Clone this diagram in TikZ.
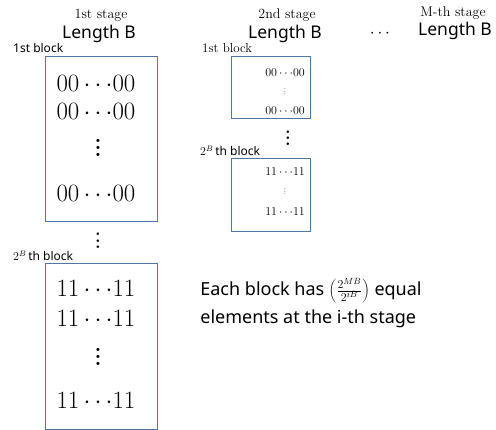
\documentclass[tikz,border=0pt]{standalone}
\usepackage{fontspec}
\setsansfont{Noto Sans}
\definecolor{boxblue}{RGB}{79,119,166}
\newcommand\vdd[1]{\vbox{\baselineskip=#1\lineskiplimit=-20pt\hbox{.}\hbox{.}\hbox{.}}}
\begin{document}
\begin{tikzpicture}[x=1pt,y=-1pt,
  blk/.style={draw=boxblue,line width=0.9pt,inner sep=0pt},
  stagelbl/.style={font=\fontsize{14}{16}\selectfont},
  lenlbl/.style={font=\sffamily\fontsize{17.5}{20}\selectfont},
  blklbl/.style={font=\sffamily\fontsize{12}{14}\selectfont,anchor=west,inner sep=0pt},
  blklbls/.style={font=\fontsize{13}{15}\selectfont,anchor=west,inner sep=0pt},
  bigrow/.style={font=\fontsize{23}{26}\selectfont,inner sep=0pt},
  bigvd/.style={font=\bfseries\fontsize{22}{24}\selectfont,inner sep=0pt},
  midvd/.style={font=\bfseries\fontsize{18}{20}\selectfont,inner sep=0pt},
  tinyvd/.style={font=\fontsize{7}{8}\selectfont,inner sep=0pt},
  smallrow/.style={font=\fontsize{11.5}{13}\selectfont,inner sep=0pt},
  note/.style={font=\sffamily\fontsize{18}{28}\selectfont,align=left,inner sep=0pt}]
\useasboundingbox (0,0) rectangle (496,430);
% stage 1
\node[stagelbl] (s1) at (101,15) {1st stage};
\node[lenlbl] (l1) at (99,34) {Length B};
\node[blklbl] (b1l) at (13,48) {1st block};
\draw[blk] (45,56) rectangle (157,221);
\node[bigrow] (r11) at (96,83) {$00\cdots\!00$};
\node[bigrow] (r12) at (96,111) {$00\cdots\!00$};
\node[bigvd] (r13) at (98,148) {\vdd{7pt}};
\node[bigrow] (r14) at (96,193) {$00\cdots\!00$};
\node[midvd] (v1) at (98,241) {\vdd{6.5pt}};
\node[blklbl] (b2l) at (13,256) {$2^{B}$\,th block};
\draw[blk] (45,263) rectangle (157,429);
\node[bigrow] (r21) at (96,288) {$11\cdots\!11$};
\node[bigrow] (r22) at (96,318) {$11\cdots\!11$};
\node[bigvd] (r23) at (98,357) {\vdd{7pt}};
\node[bigrow] (r24) at (96,400) {$11\cdots\!11$};
% stage 2
\node[stagelbl] (s2) at (287,15) {2nd stage};
\node[lenlbl] (l2) at (285,34) {Length B};
\node[blklbls] (c1l) at (202,48) {1st block};
\draw[blk] (231,56) rectangle (310,118);
\node[smallrow] (q11) at (285,73) {$00\cdots\!00$};
\node[tinyvd] (q12) at (285,92) {\vdd{2.6pt}};
\node[smallrow] (q13) at (285,111) {$00\cdots\!00$};
\node[midvd] (v2) at (288,138) {\vdd{6pt}};
\node[blklbl] (c2l) at (200,151) {$2^{B}$\,th block};
\draw[blk] (231,158) rectangle (310,231);
\node[smallrow] (q21) at (285,172) {$11\cdots\!11$};
\node[tinyvd] (q22) at (285,192) {\vdd{2.6pt}};
\node[smallrow] (q23) at (285,212) {$11\cdots\!11$};
% dots and M-th stage
\node[lenlbl] (dd) at (380,34) {$\cdots$};
\node[stagelbl] (sm) at (453,13) {M-th stage};
\node[lenlbl] (lm) at (455,31) {Length B};
% note
\node[note] (n) at (311,303) {Each block has $\left(\frac{2^{MB}}{2^{iB}}\right)$ equal\\ elements at the i-th stage};
\end{tikzpicture}
\end{document}
